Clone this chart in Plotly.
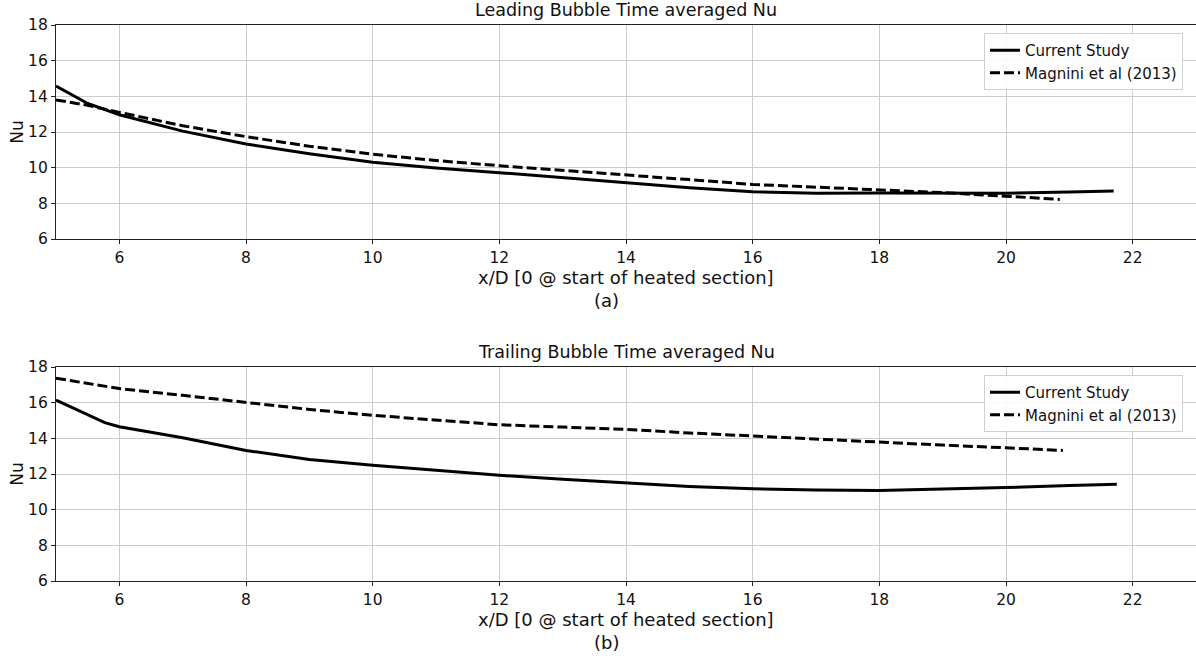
import plotly.graph_objects as go

# ---------------- data ----------------
lead_x_cur = [5.0, 5.5, 6.0, 7.0, 8.0, 9.0, 10.0, 11.0, 12.0, 13.0, 14.0, 15.0, 16.0, 17.0, 18.0, 19.0, 20.0, 21.0, 21.7]
lead_nu_cur = [14.58, 13.6, 12.97, 12.05, 11.33, 10.78, 10.3, 9.98, 9.72, 9.43, 9.16, 8.88, 8.65, 8.57, 8.58, 8.57, 8.57, 8.63, 8.69]
lead_x_mag = [5.0, 5.5, 6.0, 7.0, 8.0, 9.0, 10.0, 11.0, 12.0, 13.0, 14.0, 15.0, 16.0, 17.0, 18.0, 19.0, 20.0, 20.85]
lead_nu_mag = [13.8, 13.5, 13.1, 12.35, 11.74, 11.2, 10.75, 10.4, 10.11, 9.86, 9.59, 9.33, 9.06, 8.9, 8.78, 8.6, 8.4, 8.22]

trail_x_cur = [5.0, 5.77, 6.0, 7.0, 8.0, 9.0, 10.0, 11.0, 12.0, 13.0, 14.0, 15.0, 16.0, 17.0, 18.0, 19.0, 20.0, 21.0, 21.75]
trail_nu_cur = [16.15, 14.88, 14.65, 14.03, 13.32, 12.81, 12.49, 12.2, 11.93, 11.7, 11.5, 11.3, 11.17, 11.1, 11.08, 11.15, 11.24, 11.35, 11.43]
trail_x_mag = [5.0, 6.0, 7.0, 8.0, 9.0, 10.0, 11.0, 12.0, 13.0, 14.0, 15.0, 16.0, 17.0, 18.0, 19.0, 20.0, 20.9]
trail_nu_mag = [17.37, 16.79, 16.41, 16.03, 15.62, 15.29, 15.02, 14.76, 14.63, 14.5, 14.3, 14.12, 13.95, 13.79, 13.62, 13.47, 13.32]

series_names = ["Current Study", "Magnini et al (2013)"]
titles = ["Leading Bubble Time averaged Nu", "Trailing Bubble Time averaged Nu"]
x_title = "x/D [0 @ start of heated section]"
y_title = "Nu"
panel_labels = ["(a)", "(b)"]
x_ticks = [6, 8, 10, 12, 14, 16, 18, 20, 22]
y_ticks = [6, 8, 10, 12, 14, 16, 18]

FONT = "DejaVu Sans"
W, H = 1196, 664
ML, MR, MT, MB = 56, 0, 25, 83
PH = H - MT - MB


def py(pixel_y):
    return 1 - (pixel_y - MT) / PH


fig = go.Figure()

solid = dict(color="black", width=3)
dashed = dict(color="black", width=3, dash="10px,4px")

fig.add_trace(go.Scatter(x=lead_x_cur, y=lead_nu_cur, mode="lines", line=solid,
                         name=series_names[0], xaxis="x", yaxis="y", legend="legend"))
fig.add_trace(go.Scatter(x=lead_x_mag, y=lead_nu_mag, mode="lines", line=dashed,
                         name=series_names[1], xaxis="x", yaxis="y", legend="legend"))
fig.add_trace(go.Scatter(x=trail_x_cur, y=trail_nu_cur, mode="lines", line=solid,
                         name=series_names[0], xaxis="x2", yaxis="y2", legend="legend2"))
fig.add_trace(go.Scatter(x=trail_x_mag, y=trail_nu_mag, mode="lines", line=dashed,
                         name=series_names[1], xaxis="x2", yaxis="y2", legend="legend2"))

axis_common = dict(
    showgrid=True, gridcolor="#cccccc", gridwidth=1,
    showline=True, linecolor="#222222", linewidth=1.2, mirror=True,
    ticks="outside", ticklen=4, tickcolor="#222222",
    tickfont=dict(family=FONT, size=15.5, color="#111111"),
    zeroline=False,
)

top_dom = [py(239), 1.0]
bot_dom = [0.0, py(367)]

legend_common = dict(xanchor="left", yanchor="top",
                     bgcolor="rgba(255,255,255,0.85)", bordercolor="#d0d0d0", borderwidth=1,
                     font=dict(family=FONT, size=15), tracegroupgap=0)

fig.update_layout(
    width=W, height=H,
    margin=dict(l=ML, r=MR, t=MT, b=MB),
    plot_bgcolor="white", paper_bgcolor="white",
    font=dict(family=FONT, color="#111111"),
    xaxis=dict(axis_common, range=[5, 23], tickvals=x_ticks, anchor="y"),
    yaxis=dict(axis_common, range=[6, 18], tickvals=y_ticks, domain=top_dom, anchor="x",
               title=dict(text=y_title, font=dict(family=FONT, size=17), standoff=0)),
    xaxis2=dict(axis_common, range=[5, 23], tickvals=x_ticks, anchor="y2"),
    yaxis2=dict(axis_common, range=[6, 18], tickvals=y_ticks, domain=bot_dom, anchor="x2",
                title=dict(text=y_title, font=dict(family=FONT, size=17), standoff=0)),
    legend=dict(legend_common, x=(984 - ML) / 1140, y=py(33)),
    legend2=dict(legend_common, x=(984 - ML) / 1140, y=py(375)),
    showlegend=True,
)

ann = []
for title, ty in zip(titles, [10, 352]):
    ann.append(dict(text=title, x=0.5, y=py(ty), xref="paper", yref="paper",
                    showarrow=False, xanchor="center", yanchor="middle",
                    font=dict(family=FONT, size=17.5, color="#111111")))
for ty in [277, 619]:
    ann.append(dict(text=x_title, x=0.5, y=py(ty), xref="paper", yref="paper",
                    showarrow=False, xanchor="center", yanchor="middle",
                    font=dict(family=FONT, size=18, color="#111111")))
for lab, ty in zip(panel_labels, [300, 642]):
    ann.append(dict(text=lab, x=(606 - ML) / 1140, y=py(ty), xref="paper", yref="paper",
                    showarrow=False, xanchor="center", yanchor="middle",
                    font=dict(family=FONT, size=18, color="#111111")))
fig.update_layout(annotations=ann)

fig.write_html("out.html")
